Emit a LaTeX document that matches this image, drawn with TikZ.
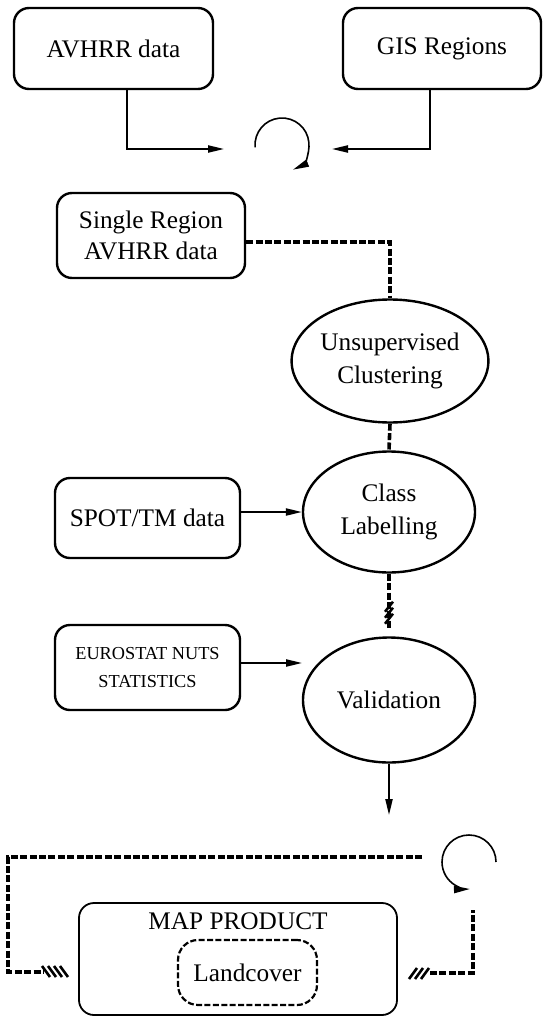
\documentclass[tikz,border=0pt]{standalone}
\usepackage{fontspec}
\setmainfont{Liberation Serif}
\usetikzlibrary{shapes.geometric,arrows.meta}

\begin{document}
\begin{tikzpicture}[x=0.5mm,y=0.5mm,
  databox/.style={draw, line width=1.2mm, rounded corners=7.5mm, align=center, inner sep=0pt, font=\fontsize{36}{43}\selectfont},
  procell/.style={draw, ellipse, line width=1.2mm, align=center, inner sep=0pt, font=\fontsize{36}{46}\selectfont},
  flow/.style={line width=0.8mm, -{Triangle[length=8mm,width=3.6mm]}},
  hatch/.style={line width=1.8mm, dash pattern=on 3.5mm off 1.2mm},
  snag/.style={line width=1.3mm}]
\useasboundingbox (0,0) rectangle (542,-1017);

\node[databox, minimum width=99.5mm, minimum height=40.5mm] (avhrr) at (113.5,-48.5) {AVHRR data};
\node[databox, minimum width=99mm, minimum height=40.5mm] (gis) at (442,-48.5) {GIS Regions};

\coordinate (mergeL) at (224,-149);
\coordinate (mergeR) at (332,-149);
\coordinate (turnA) at (282,-145);
\draw[flow] ([xshift=6.75mm]avhrr.south) |- (mergeL);
\draw[flow] ([xshift=-6mm]gis.south) |- (mergeR);
\draw[flow] ([shift={(185:27)}]turnA) arc[start angle=185, end angle=-66, radius=27];

\node[databox, minimum width=94mm, minimum height=42.5mm] (single) at (151,-235.5) {Single Region\\AVHRR data};
\node[procell, minimum width=87mm, minimum height=61.5mm] (cluster) at (390,-361) {Unsupervised\\Clustering};
\node[procell, minimum width=86mm, minimum height=60.5mm] (labelling) at (389,-512) {Class\\Labelling};
\node[procell, minimum width=86mm, minimum height=62.5mm] (valid) at (389,-700) {Validation};

\node[databox, minimum width=92.5mm, minimum height=40mm] (spot) at (147.5,-518) {SPOT/TM data};
\node[databox, font=\fontsize{26}{40}\selectfont, minimum width=92.5mm, minimum height=42.5mm] (euro) at (147.5,-667.5) {EUROSTAT NUTS\\STATISTICS};

\draw[hatch] ([yshift=-3.25mm]single.east) -| (cluster.north);
\draw[hatch] (cluster.south) -- (labelling.north);
\draw[hatch, shorten >=4mm] (labelling.south) -- (valid.north);
\foreach \dy in {-33,-39,-45}
  \draw[snag] ([shift={(-4,\dy-5)}]labelling.south) -- ++(8,10);

\coordinate (evalin) at (302,-663);
\coordinate (mapin) at (389,-815);
\draw[flow] (spot.east |- labelling.west) -- (labelling.west);
\draw[flow] (euro.east |- evalin) -- (evalin);
\draw[flow] (valid.south) -- (mapin);

% product box with the landcover layer inside
\node[draw, line width=0.9mm, rounded corners=7.5mm, minimum width=159mm, minimum height=56mm, inner sep=0pt] (mapbox) at (238,-959) {};
\node[font=\fontsize{36}{43}\selectfont] (maptitle) at (238,-921) {MAP PRODUCT};
\node[draw, line width=1.1mm, dash pattern=on 3mm off 1.2mm, rounded corners=10mm, minimum width=69.5mm, minimum height=32.5mm, inner sep=0pt, font=\fontsize{36}{43}\selectfont] (land) at (247.5,-972.5) {Landcover};

% feedback round the product
\coordinate (backtop) at (422,-857);
\coordinate (backL) at (68,-972);
\coordinate (backR) at (410,-973);
\coordinate (backup) at (473,-910);
\coordinate (turnB) at (469,-862);
\draw[hatch] (backtop) -- ++(-414,0) |- ([xshift=-12mm]backL);
\draw[hatch] ([xshift=10mm]backR) -| (backup);
\foreach \dx in {-22,-16,-10,-4}
  \draw[snag] ([shift={(\dx-4,6)}]backL) -- ++(8,-11);
\foreach \dx in {3,9,15}
  \draw[snag] ([shift={(\dx-4,-6)}]backR) -- ++(8,11);
\draw[flow] ([shift={(0:27)}]turnB) arc[start angle=0, end angle=272, radius=27];
\end{tikzpicture}
\end{document}
